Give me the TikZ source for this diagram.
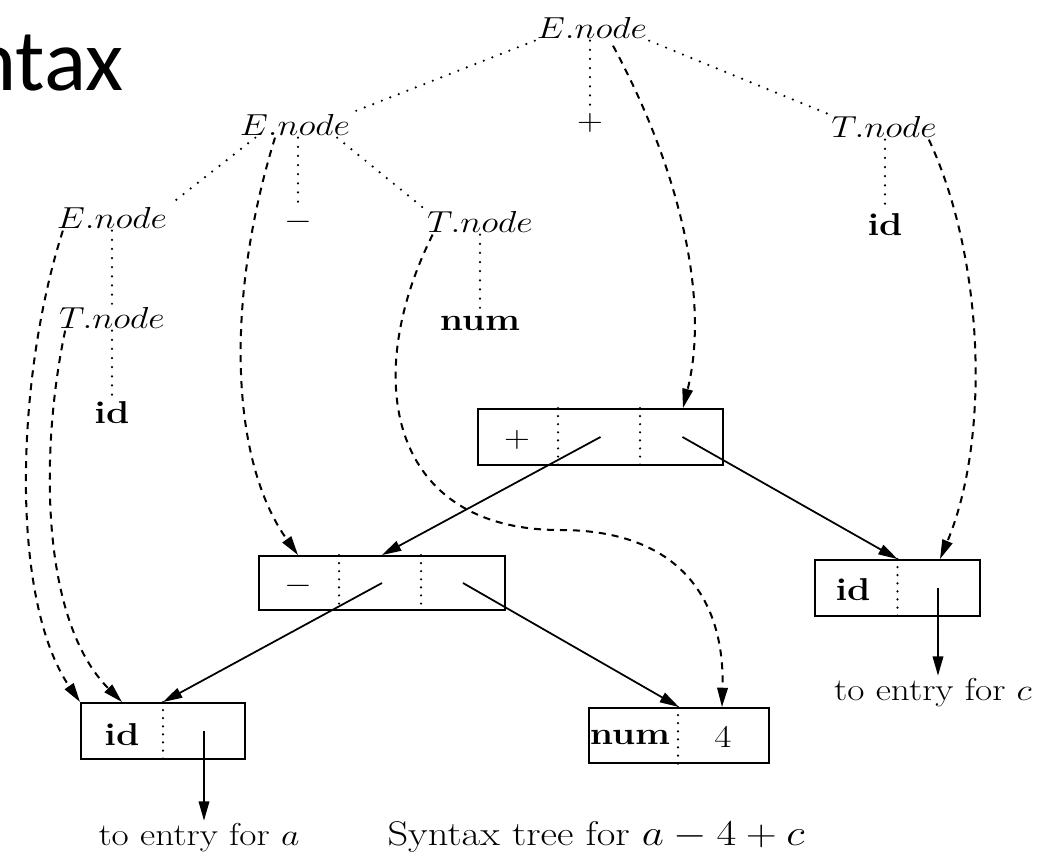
\documentclass[tikz,border=0pt]{standalone}
\usepackage{graphicx}
\usepackage{fontspec}
\newfontfamily\titlefont{Carlito}
\usetikzlibrary{arrows.meta}
\newcommand\fs{\fontsize{18}{21}\selectfont}
\newcommand\capfs{\fontsize{19.5}{23}\selectfont}
\newcommand\sx[1]{\scalebox{1.18}[1]{#1}}
\tikzset{
  lbl/.style={inner sep=1pt, font=\fs},
  treeln/.style={line width=1.4pt, dash pattern=on 0pt off 5.2pt, line cap=round},
  divln/.style={line width=1.4pt, dash pattern=on 0pt off 4.6pt, line cap=round},
  dep/.style={line width=1.15pt, dash pattern=on 4pt off 3.4pt, -{Triangle[length=11pt,width=6pt]}},
  ptr/.style={line width=1pt, -{Triangle[length=11pt,width=6pt]}},
  rec/.style={draw, line width=1.1pt, inner sep=0pt}
}
\begin{document}
\begin{tikzpicture}[x=0.02cm,y=-0.02cm]
\useasboundingbox (0,0) rectangle (1049,856);
\begin{scope}
\clip (0,0) rectangle (1049,856);
\node[anchor=base east, inner sep=0pt, font=\titlefont\fontsize{50}{60}\selectfont] (title) at (124,90) {Syntax};
\end{scope}

% parse tree labels
\node[lbl] (Etop) at (592,28) {\sx{$E.node$}};
\node[lbl] (plus) at (590,123) {\sx{$+$}};
\node[lbl] (Tright) at (884,127) {\sx{$T.node$}};
\node[lbl] (idR) at (885,225) {\sx{\textbf{id}}};
\node[lbl] (Emid) at (295,125) {\sx{$E.node$}};
\node[lbl] (minus) at (298,222) {\sx{$-$}};
\node[lbl] (Tmid) at (480,222) {\sx{$T.node$}};
\node[lbl] (num) at (480,323) {\sx{\textbf{num}}};
\node[lbl] (Eleft) at (112,218) {\sx{$E.node$}};
\node[lbl] (Tleft) at (112,318) {\sx{$T.node$}};
\node[lbl] (idL) at (112,413) {\sx{\textbf{id}}};

% dotted tree edges
\draw[treeln] (Etop.south west) -- (Emid.north east);
\draw[treeln] (plus.north |- Etop.south) -- (plus.north);
\draw[treeln] (Etop.south east) -- (Tright.north west);
\draw[treeln] ([xshift=0.35cm]Emid.south west) -- (Eleft.north east);
\draw[treeln] (minus.north |- Emid.south) -- (minus.north);
\draw[treeln] ([xshift=-0.3cm]Emid.south east) -- (Tmid.north west);
\draw[treeln] (num.north |- Tmid.south) -- (num.north);
\draw[treeln] (idR.north |- Tright.south) -- (idR.north);
\draw[treeln] (Tleft.north |- Eleft.south) -- (Tleft.north);
\draw[treeln] (idL.north |- Tleft.south) -- (idL.north);

% syntax tree records
\node[rec, minimum width=4.9cm, minimum height=1.12cm] (plusbox) at (600.5,437) {};
\node[rec, minimum width=4.92cm, minimum height=1.08cm] (minusbox) at (382,583) {};
\node[rec, minimum width=3.28cm, minimum height=1.12cm] (idLbox) at (163,731) {};
\node[rec, minimum width=3.6cm, minimum height=1.1cm] (numbox) at (679,735.5) {};
\node[rec, minimum width=3.3cm, minimum height=1.12cm] (idRbox) at (897.5,588) {};

\draw[divln] ([xshift=1.62cm]plusbox.north west) -- ([xshift=1.62cm]plusbox.south west);
\draw[divln] ([xshift=3.26cm]plusbox.north west) -- ([xshift=3.26cm]plusbox.south west);
\draw[divln] ([xshift=1.62cm]minusbox.north west) -- ([xshift=1.62cm]minusbox.south west);
\draw[divln] ([xshift=3.26cm]minusbox.north west) -- ([xshift=3.26cm]minusbox.south west);
\draw[divln] (idLbox.north) -- (idLbox.south);
\draw[divln] ([xshift=-0.02cm]numbox.north) -- ([xshift=-0.02cm]numbox.south);
\draw[divln] (idRbox.north) -- (idRbox.south);

\node[lbl] (plusop) at (517,440) {\sx{$+$}};
\node[lbl] (minusop) at (298,586) {\sx{$-$}};
\node[lbl] (idLtxt) at (122,735) {\sx{\textbf{id}}};
\node[lbl] (numtxt) at (630,737) {\sx{\textbf{num}}};
\node[lbl] (four) at (723,737) {\sx{4}};
\node[lbl] (idRtxt) at (853,590) {\sx{\textbf{id}}};

% captions
\node[lbl, anchor=base] (teA) at (199,845) {\sx{to entry for $a$}};
\node[lbl, anchor=base] (teC) at (933,700) {\sx{to entry for $c$}};
\node[lbl, anchor=base, font=\capfs] (cap) at (596,845) {\sx{Syntax tree for $a-4+c$}};

% solid pointers
\draw[ptr] (plusbox.center) -- (minusbox.north);
\draw[ptr] ([xshift=1.64cm]plusbox.center) -- (idRbox.north);
\draw[ptr] (minusbox.center) -- (idLbox.north);
\draw[ptr] ([xshift=1.62cm]minusbox.center) -- (numbox.north);
\draw[ptr] ([xshift=0.82cm]idLbox.center) -- ([xshift=0.82cm]idLbox.center |- teA.north);
\draw[ptr] ([xshift=0.81cm]idRbox.center) -- ([xshift=0.81cm]idRbox.center |- teC.north);

% dashed attribute pointers
\draw[dep] ([xshift=0.42cm,yshift=-0.1cm]Etop.south) .. controls (680,170) and (710,300) .. ([xshift=1.65cm]plusbox.north);
\draw[dep] ([xshift=-0.2cm]Tright.south east) .. controls (985,260) and (990,440) .. ([xshift=0.85cm]idRbox.north);
\draw[dep] ([xshift=-0.4cm]Emid.south) .. controls (225,300) and (230,460) .. ([xshift=-1.68cm]minusbox.north);
\draw[dep] ([xshift=0.15cm]Tmid.south west) .. controls (360,380) and (390,530) .. (560,530) .. controls (680,530) and (725,600) .. ([xshift=0.86cm]numbox.north);
\draw[dep] ([xshift=0.16cm]Eleft.south west) .. controls (15,380) and (10,600) .. (idLbox.north west);
\draw[dep] ([xshift=0.16cm]Tleft.south west) .. controls (40,450) and (40,620) .. ([xshift=-0.82cm]idLbox.north);
\end{tikzpicture}
\end{document}
